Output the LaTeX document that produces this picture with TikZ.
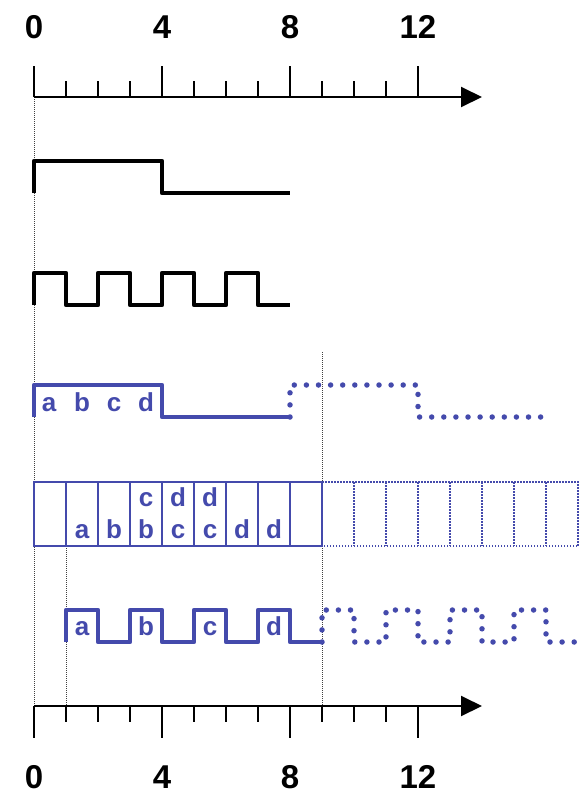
\documentclass[tikz,border=0pt]{standalone}
\usepackage{fontspec}
\setmainfont{Liberation Sans}
\usetikzlibrary{arrows.meta}
\definecolor{wblue}{RGB}{68,74,172}
\begin{document}
\begin{tikzpicture}[x=1pt,y=-1pt,
  axis/.style={line width=2pt, -{Triangle[length=21pt,width=20pt]}},
  tickline/.style={line width=2pt},
  guide/.style={line width=1pt, black!75, dash pattern=on 1pt off 1pt},
  blackwave/.style={line width=4.3pt, line join=round},
  bluewave/.style={line width=4.5pt, wblue, line join=round},
  bluedots/.style={wblue, line width=5.5pt, line cap=round, dash pattern=on 0pt off 12.1pt},
  cellsolid/.style={draw=wblue, line width=2pt},
  celldots/.style={draw=wblue, line width=1.5pt, dash pattern=on 1.5pt off 1.5pt},
  numlabel/.style={font=\fontsize{33}{33}\selectfont\bfseries, anchor=base, inner sep=0pt, text depth=0pt},
  letter/.style={font=\fontsize{26}{26}\selectfont\bfseries, text=wblue, anchor=base, inner sep=0pt},
]
\useasboundingbox (0,0) rectangle (588,793);

% guides
\draw[guide] (34,97) -- (34,706);
\draw[guide] (66,546) -- (66,706);
\draw[guide] (322,352) -- (322,706);

% top axis
\coordinate (ta0) at (34,97);
\coordinate (ta1) at (482,97);
\draw[axis] (ta0) -- (ta1);
\foreach \i in {0,4,8,12} \draw[tickline] (34+32*\i,97) -- ++(0,-31);
\foreach \i in {1,2,3,5,6,7,9,10,11} \draw[tickline] (34+32*\i,97) -- ++(0,-16);
\node[numlabel] (t0) at (34,38) {0};
\node[numlabel] (t4) at (162,38) {4};
\node[numlabel] (t8) at (290,38) {8};
\node[numlabel] (t12) at (418,38) {12};

% waveform 1
\draw[blackwave] (34,193) -- (34,161) -- (162,161) -- (162,193) -- (290,193);

% waveform 2
\draw[blackwave] (34,305) -- (34,273) -- (66,273) -- (66,305) -- (98,305) -- (98,273)
  -- (130,273) -- (130,305) -- (162,305) -- (162,273) -- (194,273) -- (194,305)
  -- (226,305) -- (226,273) -- (258,273) -- (258,305) -- (290,305);

% waveform 3
\draw[bluewave] (34,417) -- (34,385) -- (162,385) -- (162,417) -- (290,417);
\draw[bluedots] (290,417) -- (290,385) -- (418,385) -- (418,417) -- (543,417);
\node[letter] (wa) at (49,411.5) {a};
\node[letter] (wb) at (82,411.5) {b};
\node[letter] (wc) at (114,411.5) {c};
\node[letter] (wd) at (146,411.5) {d};

% buffer cells
\draw[cellsolid] (34,482) rectangle (322,546);
\foreach \i in {1,...,8} \draw[cellsolid] (34+32*\i,482) -- (34+32*\i,546);
\draw[celldots] (322,482) -- (578,482) -- (578,546) -- (322,546);
\foreach \i in {10,...,16} \draw[celldots] (34+32*\i,482) -- (34+32*\i,546);
\node[letter] (c2a) at (82,538) {a};
\node[letter] (c3b) at (114,538) {b};
\node[letter] (c4b) at (146,538) {b};
\node[letter] (c4c) at (146,506.5) {c};
\node[letter] (c5c) at (178,538) {c};
\node[letter] (c5d) at (178,506.5) {d};
\node[letter] (c6c) at (210,538) {c};
\node[letter] (c6d) at (210,506.5) {d};
\node[letter] (c7d) at (242,538) {d};
\node[letter] (c8d) at (274,538) {d};

% waveform 4
\draw[bluewave] (66,642) -- (66,610) -- (98,610) -- (98,642) -- (130,642) -- (130,610)
  -- (162,610) -- (162,642) -- (194,642) -- (194,610) -- (226,610) -- (226,642)
  -- (258,642) -- (258,610) -- (290,610) -- (290,642) -- (322,642);
\draw[bluedots] (322,642) -- (322,610) -- (354,610) -- (354,642) -- (386,642) -- (386,610)
  -- (418,610) -- (418,642) -- (450,642) -- (450,610) -- (482,610) -- (482,642)
  -- (514,642) -- (514,610) -- (546,610) -- (546,642) -- (578,642);
\node[letter] (ba) at (82,635) {a};
\node[letter] (bb) at (146,635) {b};
\node[letter] (bc) at (210,635) {c};
\node[letter] (bd) at (274,635) {d};

% bottom axis
\coordinate (ba0) at (34,706);
\coordinate (ba1) at (482,706);
\draw[axis] (ba0) -- (ba1);
\foreach \i in {0,4,8,12} \draw[tickline] (34+32*\i,706) -- ++(0,32);
\foreach \i in {1,2,3,5,6,7,9,10,11} \draw[tickline] (34+32*\i,706) -- ++(0,16);
\node[numlabel] (b0) at (34,788) {0};
\node[numlabel] (b4) at (162,788) {4};
\node[numlabel] (b8) at (290,788) {8};
\node[numlabel] (b12) at (418,788) {12};
\end{tikzpicture}
\end{document}
